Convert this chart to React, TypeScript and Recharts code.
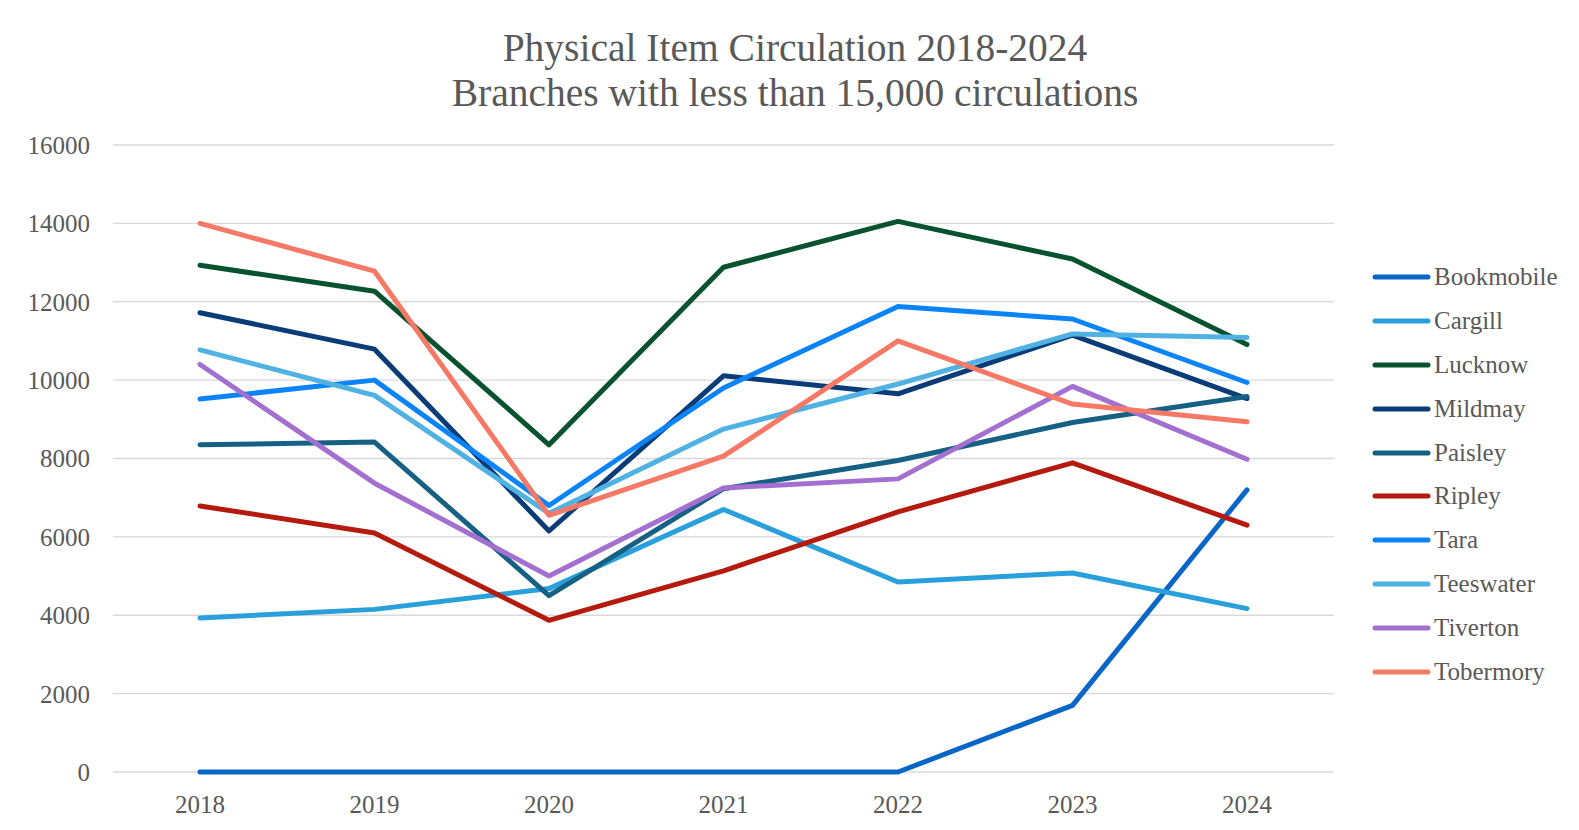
import React from 'react';
import { LineChart, Line, XAxis, YAxis, CartesianGrid } from 'recharts';

const years = ['2018', '2019', '2020', '2021', '2022', '2023', '2024'];
const yTicks = [0, 2000, 4000, 6000, 8000, 10000, 12000, 14000, 16000];

const bookmobile = [0, 0, 0, 0, 0, 1700, 7200];
const cargill = [3930, 4150, 4680, 6700, 4850, 5080, 4170];
const lucknow = [12930, 12270, 8350, 12880, 14050, 13090, 10910];
const mildmay = [11720, 10790, 6150, 10110, 9650, 11150, 9530];
const paisley = [8350, 8420, 4500, 7230, 7950, 8920, 9580];
const ripley = [6790, 6100, 3870, 5130, 6640, 7890, 6300];
const tara = [9520, 10000, 6800, 9800, 11880, 11560, 9940];
const teeswater = [10770, 9610, 6600, 8750, 9900, 11180, 11090];
const tiverton = [10400, 7370, 5000, 7250, 7480, 9840, 7980];
const tobermory = [14000, 12780, 6550, 8060, 11000, 9390, 8940];

const branches = [
  { name: 'Bookmobile', values: bookmobile, color: '#0866c6' },
  { name: 'Cargill', values: cargill, color: '#29a0db' },
  { name: 'Lucknow', values: lucknow, color: '#07522f' },
  { name: 'Mildmay', values: mildmay, color: '#0a3c78' },
  { name: 'Paisley', values: paisley, color: '#166084' },
  { name: 'Ripley', values: ripley, color: '#b51a0e' },
  { name: 'Tara', values: tara, color: '#0c84f9' },
  { name: 'Teeswater', values: teeswater, color: '#4fb2e3' },
  { name: 'Tiverton', values: tiverton, color: '#a36fd0' },
  { name: 'Tobermory', values: tobermory, color: '#f67965' },
];

const data = years.map((year, i) => {
  const row: Record<string, string | number> = { year };
  branches.forEach((b) => {
    row[b.name] = b.values[i];
  });
  return row;
});

const FONT = '"Liberation Serif", "Times New Roman", serif';
const TEXT = '#595959';

export default function App() {
  return (
    <div
      style={{
        position: 'relative',
        margin: -8,
        width: 1579,
        height: 830,
        overflow: 'hidden',
        background: '#fff',
        fontFamily: FONT,
      }}
    >
      <div
        style={{
          position: 'absolute',
          left: 6,
          top: 3,
          right: -10,
          bottom: -10,
          borderLeft: '2px solid #d4d4d4',
          borderTop: '2px solid #d4d4d4',
        }}
      />
      <div
        style={{
          position: 'absolute',
          left: 395,
          width: 800,
          top: 26,
          textAlign: 'center',
          fontSize: 39.5,
          lineHeight: '45px',
          color: TEXT,
        }}
      >
        Physical Item Circulation 2018-2024
        <br />
        Branches with less than 15,000 circulations
      </div>

      <div style={{ position: 'absolute', left: 0, top: 0 }}>
        <LineChart
          width={1579}
          height={830}
          data={data}
          margin={{ top: 145, right: 245, bottom: 18, left: 13 }}
        >
          <CartesianGrid vertical={false} stroke="#d9d9d9" strokeWidth={1.3} />
          <XAxis
            dataKey="year"
            axisLine={false}
            tickLine={false}
            height={40}
            tickMargin={17}
            padding={{ left: 87, right: 87 }}
            tick={{ fill: TEXT, fontSize: 25, fontFamily: FONT }}
          />
          <YAxis
            domain={[0, 16000]}
            ticks={yTicks}
            width={100}
            axisLine={false}
            tickLine={false}
            tickMargin={17}
            tick={{ fill: TEXT, fontSize: 25, fontFamily: FONT }}
          />
          {branches.map((b) => (
            <Line
              key={b.name}
              type="linear"
              dataKey={b.name}
              stroke={b.color}
              strokeWidth={5}
              strokeLinecap="round"
              strokeLinejoin="round"
              dot={false}
              activeDot={false}
              isAnimationActive={false}
            />
          ))}
        </LineChart>
      </div>

      <div style={{ position: 'absolute', left: 1372, top: 255 }}>
        {branches.map((b) => (
          <div
            key={b.name}
            style={{ display: 'flex', alignItems: 'center', height: 43.9 }}
          >
            <svg width={60} height={10}>
              <line
                x1={3}
                y1={5}
                x2={56}
                y2={5}
                stroke={b.color}
                strokeWidth={5}
                strokeLinecap="round"
              />
            </svg>
            <span style={{ fontSize: 25, color: TEXT, marginLeft: 2 }}>{b.name}</span>
          </div>
        ))}
      </div>
    </div>
  );
}
